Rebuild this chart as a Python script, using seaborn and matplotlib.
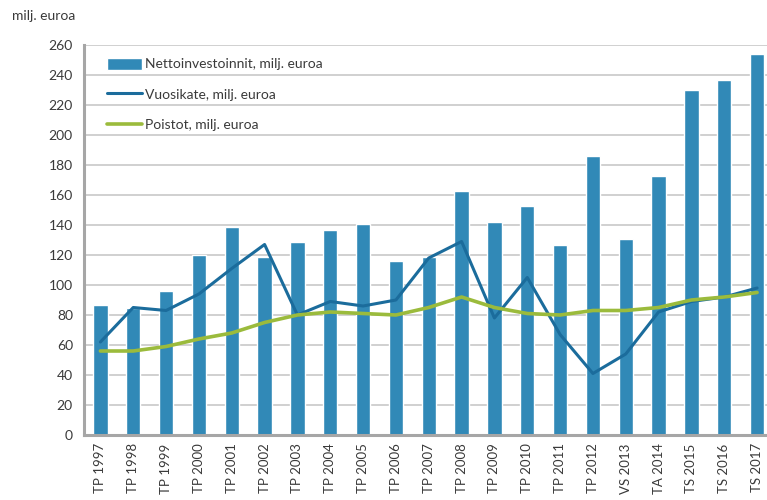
import numpy as np
import pandas as pd
import matplotlib
matplotlib.use("Agg")
import matplotlib.pyplot as plt
import seaborn as sns

categories = ["TP 1997", "TP 1998", "TP 1999", "TP 2000", "TP 2001", "TP 2002", "TP 2003",
              "TP 2004", "TP 2005", "TP 2006", "TP 2007", "TP 2008", "TP 2009", "TP 2010",
              "TP 2011", "TP 2012", "VS 2013", "TA 2014", "TS 2015", "TS 2016", "TS 2017"]
nettoinvestoinnit = [87, 85, 96, 120, 139, 119, 129, 137, 141, 116, 119, 163, 142, 153,
                     127, 186, 131, 173, 230, 237, 254]
vuosikate = [62, 85, 83, 94, 111, 127, 80, 89, 86, 90, 118, 129, 78, 105,
             67, 41, 54, 82, 89, 92, 98]
poistot = [56, 56, 59, 64, 68, 75, 80, 82, 81, 80, 85, 92, 85, 81,
           80, 83, 83, 85, 90, 92, 95]
yticks = list(range(0, 261, 20))

df = pd.DataFrame({"cat": categories, "netto": nettoinvestoinnit,
                   "vuosikate": vuosikate, "poistot": poistot})
df["pos"] = np.arange(len(df))

sns.set_style("white")
plt.rcParams["font.family"] = ["Lato", "DejaVu Sans"]

fig = plt.figure(figsize=(7.67, 5.0), dpi=100)
ax = fig.add_axes([0.1095, 0.13, 0.899, 0.78])

bar_color = "#3189b7"
line_blue = "#1b6c9c"
line_green = "#9bbb3c"
grey = "#a6a6a6"
txt = "#3a3a3a"

sns.barplot(data=df, x="pos", y="netto", color=bar_color, width=0.44,
            saturation=1, ax=ax, label="Nettoinvestoinnit, milj. euroa", zorder=2)
sns.lineplot(data=df, x="pos", y="vuosikate", color=line_blue, linewidth=2.2,
             ax=ax, label="Vuosikate, milj. euroa", zorder=3)
sns.lineplot(data=df, x="pos", y="poistot", color=line_green, linewidth=2.6,
             ax=ax, label="Poistot, milj. euroa", zorder=4)

ax.set_xlim(-0.5, len(categories) - 0.5)
ax.set_ylim(0, 260)
ax.set_yticks(yticks)
ax.set_yticklabels([str(v) for v in yticks], fontsize=10, color=txt)
ax.set_xticks(df["pos"])
ax.set_xticklabels(categories, rotation=90, fontsize=9.5, color=txt)
ax.tick_params(axis="x", length=0, pad=6)
ax.tick_params(axis="y", length=4, width=1.2, color=grey, pad=4)
ax.set_xticks(np.arange(-0.5, len(categories), 1.0), minor=True)
ax.tick_params(axis="x", which="minor", length=5, width=1.2, color=grey, direction="out")
ax.set_xlabel("")
ax.set_ylabel("")
ax.yaxis.grid(True, color="#c8c8c8", linewidth=1.2, zorder=0)
ax.set_axisbelow(True)

for s in ["top", "right"]:
    ax.spines[s].set_visible(False)
for s in ["left", "bottom"]:
    ax.spines[s].set_color(grey)
    ax.spines[s].set_linewidth(2.2)

handles, labels = ax.get_legend_handles_labels()
order = [labels.index("Nettoinvestoinnit, milj. euroa"),
         labels.index("Vuosikate, milj. euroa"),
         labels.index("Poistot, milj. euroa")]
leg = ax.legend([handles[i] for i in order], [labels[i] for i in order],
                loc="upper left", bbox_to_anchor=(0.015, 1.0), frameon=False,
                fontsize=10, handlelength=2.5, handleheight=1.0,
                labelspacing=1.25, handletextpad=0.25)
for t in leg.get_texts():
    t.set_color(txt)

fig.text(0.016, 0.968, "milj. euroa", fontsize=10, color=txt, ha="left", va="center")

fig.savefig("out.png", dpi=100)
